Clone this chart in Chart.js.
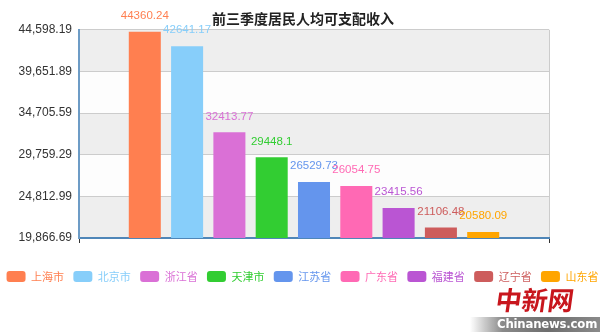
<!DOCTYPE html>
<html>
<head>
<meta charset="utf-8">
<title>前三季度居民人均可支配收入</title>
<script src="https://cdn.jsdelivr.net/npm/chart.js@4.4.1/dist/chart.umd.min.js"></script>
<style>
  html, body { margin: 0; padding: 0; background: #fff; }
  #wrap { position: relative; width: 600px; height: 332px; overflow: hidden; }
  #incomeChart { display: block; }
  .logo-cn {
    position: absolute; left: 496px; top: 282px;
    font: bold 26px 'Noto Sans CJK SC', sans-serif; color: #c8161d;
    letter-spacing: 0px; transform: skewX(-8deg); line-height: 34px;
  }
  .logo-band {
    position: absolute; left: 470px; top: 317px; width: 130px; height: 15px;
    background: linear-gradient(to right, rgba(120,120,120,0) 0%, #8a8a8a 25%, #6e6e6e 60%, #8a8a8a 100%);
  }
  .logo-en {
    position: absolute; left: 497px; top: 316px; width: 80px;
    font: bold 13px 'DejaVu Sans Condensed', 'Liberation Sans Narrow', sans-serif;
    color: #fff; line-height: 16px; letter-spacing: -0.2px;
  }
</style>
</head>
<body>
<div id="wrap">
  <canvas id="incomeChart" width="600" height="332"></canvas>
  <div class="logo-cn">中新网</div>
  <div class="logo-band"></div>
  <div class="logo-en">Chinanews.com</div>
</div>
<script>
// per-capita disposable income, first three quarters (yuan)
const provinces = ['上海市', '北京市', '浙江省', '天津市', '江苏省', '广东省', '福建省', '辽宁省', '山东省'];
const incomes = [44360.24, 42641.17, 32413.77, 29448.1, 26529.73, 26054.75, 23415.56, 21106.48, 20580.09];
const colors = ['#ff7f50', '#87cefa', '#da70d6', '#32cd32', '#6495ed', '#ff69b4', '#ba55d3', '#cd5c5c', '#ffa500'];
const yTicks = [19866.69, 24812.99, 29759.29, 34705.59, 39651.89, 44598.19];

const fmt = (v) => v.toLocaleString('en-US', { minimumFractionDigits: 2, maximumFractionDigits: 2 });

// alternating grey / white bands between the y grid lines
const splitAreas = {
  id: 'splitAreas',
  beforeDraw(chart) {
    const { ctx, chartArea } = chart;
    const y = chart.scales.y;
    ctx.save();
    for (let i = 0; i < yTicks.length - 1; i++) {
      const yb = y.getPixelForValue(yTicks[i]);
      const yt = y.getPixelForValue(yTicks[i + 1]);
      ctx.fillStyle = i % 2 === 0 ? '#eeeeee' : '#fdfdfd';
      ctx.fillRect(chartArea.left, yt, chartArea.right - chartArea.left, yb - yt);
    }
    ctx.restore();
  },
};

// value above each bar
const barValues = {
  id: 'barValues',
  afterDatasetsDraw(chart) {
    const { ctx } = chart;
    ctx.save();
    ctx.font = '11.5px "Liberation Sans", Arial, sans-serif';
    ctx.textAlign = 'center';
    ctx.textBaseline = 'middle';
    chart.data.datasets.forEach((ds, i) => {
      const bar = chart.getDatasetMeta(i).data[0];
      ctx.fillStyle = ds.backgroundColor;
      ctx.fillText(String(ds.data[0]), bar.x, bar.y - 16);
    });
    ctx.restore();
  },
};

// one-row legend under the chart, text in the series colour
const legendRow = {
  id: 'legendRow',
  afterDraw(chart) {
    const { ctx } = chart;
    const boxW = 19, boxH = 11, gap = 5.5, spacing = 9.3, cy = 276.5;
    ctx.save();
    ctx.font = '11px "Noto Sans CJK SC", sans-serif';
    ctx.textBaseline = 'middle';
    const widths = chart.data.datasets.map((ds) => boxW + gap + ctx.measureText(ds.label).width);
    const total = widths.reduce((a, b) => a + b, 0) + spacing * (widths.length - 1);
    let x = 302.5 - total / 2;
    chart.data.datasets.forEach((ds, i) => {
      ctx.fillStyle = ds.backgroundColor;
      ctx.beginPath();
      ctx.roundRect(x, cy - boxH / 2, boxW, boxH, 3);
      ctx.fill();
      ctx.fillText(ds.label, x + boxW + gap, cy);
      x += widths[i] + spacing;
    });
    ctx.restore();
  },
};

new Chart(document.getElementById('incomeChart'), {
  type: 'bar',
  data: {
    labels: [''],
    datasets: provinces.map((name, i) => ({
      label: name,
      data: [incomes[i]],
      backgroundColor: colors[i],
      categoryPercentage: 0.81,
      barPercentage: 0.757,
    })),
  },
  options: {
    responsive: false,
    animation: false,
    layout: { padding: { top: 4, left: 6, right: 0, bottom: 89 } },
    scales: {
      x: {
        grid: { offset: true, color: '#cccccc', tickColor: '#333', tickLength: 5, lineWidth: 1 },
        border: { color: '#4f86b8', width: 2 },
        ticks: { display: false },
        afterFit: (s) => { s.height = 5; },
      },
      y: {
        min: yTicks[0],
        max: yTicks[yTicks.length - 1],
        afterBuildTicks: (s) => { s.ticks = yTicks.map((v) => ({ value: v })); },
        afterFit: (s) => { s.width = 73; },
        grid: { color: '#cccccc', drawTicks: false },
        border: { color: '#6d9cc6', width: 2 },
        ticks: {
          padding: 7,
          color: '#333',
          font: { size: 12, family: '"Liberation Sans", Arial, sans-serif' },
          callback: (v) => fmt(v),
        },
      },
      // empty right-hand axis, keeps the plot off the right edge
      y2: {
        position: 'right',
        display: true,
        grid: { display: false },
        border: { display: false },
        ticks: { display: false },
        afterFit: (s) => { s.width = 51; },
      },
    },
    plugins: {
      legend: { display: false },
      tooltip: { enabled: false },
      title: {
        display: true,
        text: '前三季度居民人均可支配收入',
        color: '#222',
        font: { size: 14, weight: 'bold', family: '"Noto Sans CJK SC", sans-serif' },
        padding: { top: 6, bottom: 3 },
      },
    },
  },
  plugins: [splitAreas, barValues, legendRow],
});
</script>
</body>
</html>
